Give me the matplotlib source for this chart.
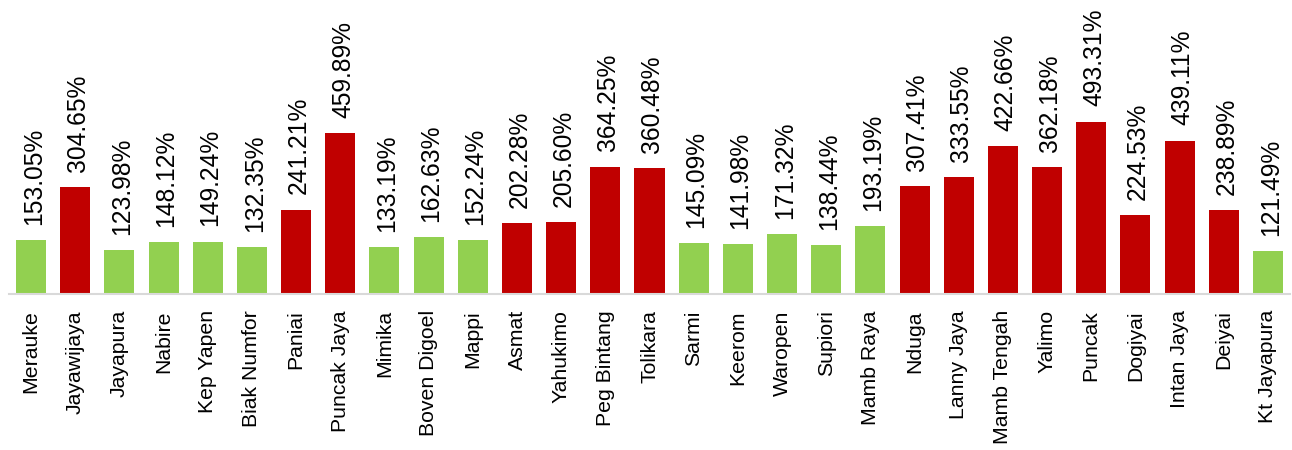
import matplotlib
matplotlib.use("Agg")
import matplotlib.pyplot as plt
from matplotlib import font_manager

categories = ["Merauke", "Jayawijaya", "Jayapura", "Nabire", "Kep Yapen", "Biak Numfor",
              "Paniai", "Puncak Jaya", "Mimika", "Boven Digoel", "Mappi", "Asmat",
              "Yahukimo", "Peg Bintang", "Tolikara", "Sarmi", "Keerom", "Waropen",
              "Supiori", "Mamb Raya", "Nduga", "Lanny Jaya", "Mamb Tengah", "Yalimo",
              "Puncak", "Dogiyai", "Intan Jaya", "Deiyai", "Kt Jayapura"]
values = [153.05, 304.65, 123.98, 148.12, 149.24, 132.35, 241.21, 459.89, 133.19,
          162.63, 152.24, 202.28, 205.60, 364.25, 360.48, 145.09, 141.98, 171.32,
          138.44, 193.19, 307.41, 333.55, 422.66, 362.18, 493.31, 224.53, 439.11,
          238.89, 121.49]
groups = ["g", "r", "g", "g", "g", "g", "r", "r", "g", "g", "g", "r", "r", "r", "r",
          "g", "g", "g", "g", "g", "r", "r", "r", "r", "r", "r", "r", "r", "g"]

palette = {"g": "#92D050", "r": "#C00000"}

names = {f.name for f in font_manager.fontManager.ttflist}
fam = ["Liberation Sans Narrow", "Liberation Sans", "DejaVu Sans"]
fam = [f for f in fam if f in names] or ["DejaVu Sans"]
narrow = fam[0] == "Liberation Sans Narrow"
plt.rcParams["font.family"] = fam

val_fs = 20 if narrow else 17.7
tick_fs = 17.5 if narrow else 15.3

fig = plt.figure(figsize=(12.92, 4.5), dpi=100)
ax = fig.add_axes([9 / 1292, 1 - 293.5 / 450, (1290 - 9) / 1292, 293.5 / 450])

x = list(range(len(categories)))
ax.bar(x, values, width=0.68, color=[palette[g] for g in groups], zorder=2)

for xi, v in zip(x, values):
    ax.annotate(f"{v:.2f}%", (xi, v), xytext=(2, 11), textcoords="offset points",
                rotation=90, ha="center", va="bottom", fontsize=val_fs, color="#000000")

ax.set_xlim(-0.5, len(categories) - 0.5)
ax.set_ylim(0, 843)
ax.set_xticks(x)
ax.set_xticklabels(categories, rotation=90, fontsize=tick_fs, va="top", ha="center")
ax.tick_params(axis="x", length=0, pad=12)
ax.set_yticks([])
for s in ["top", "right", "left"]:
    ax.spines[s].set_visible(False)
ax.spines["bottom"].set_color("#D9D9D9")
ax.spines["bottom"].set_linewidth(1.5)
ax.set_facecolor("none")

fig.savefig("out.png", dpi=100)
